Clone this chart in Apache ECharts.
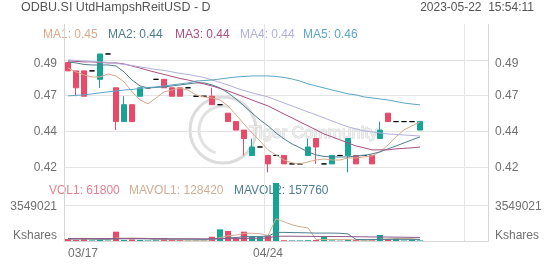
<!DOCTYPE html>
<html>
<head>
<meta charset="utf-8">
<script src="https://cdn.jsdelivr.net/npm/echarts@6/dist/echarts.min.js"></script>
<style>
html,body{margin:0;padding:0;background:#fff;}
#chart{width:552px;height:265px;}
</style>
</head>
<body>
<div id="chart"></div>
<script>
// ---- data ----
const dates = ['03/17','03/20','03/21','03/22','03/23','03/24','03/27','03/28','03/29','03/30','03/31',
  '04/03','04/04','04/05','04/06','04/10','04/11','04/12','04/13','04/14','04/17','04/18','04/19','04/20','04/21',
  '04/24','04/25','04/26','04/27','04/28','05/02','05/03','05/04','05/05','05/08','05/09','05/10','05/11','05/12',
  '05/15','05/16','05/17','05/18','05/19','05/22',
  '05/23','05/24','05/25','05/26','05/29','05/30','05/31','06/01'];
const openP  = [0.485,0.48,0.48,0.48,0.475,0.49,0.47,0.45,0.46,0.465,0.47,0.475,0.475,0.47,0.47,0.47,0.465,0.465,0.465,0.46,0.455,0.45,0.445,0.43,0.435,0.43,0.43,0.43,0.425,0.425,0.43,0.44,0.425,0.425,0.43,0.43,0.43,0.43,0.43,0.44,0.455,0.45,0.45,0.45,0.445];
const closeP = [0.48,0.47,0.465,0.48,0.49,0.49,0.45,0.46,0.45,0.47,0.47,0.475,0.47,0.465,0.465,0.47,0.465,0.465,0.46,0.46,0.45,0.445,0.44,0.435,0.435,0.425,0.43,0.425,0.425,0.425,0.435,0.435,0.425,0.43,0.43,0.44,0.425,0.43,0.425,0.445,0.45,0.45,0.45,0.45,0.45];
const lowP   = [0.48,0.465,0.465,0.48,0.47,0.49,0.445,0.45,0.45,0.465,0.47,0.475,0.47,0.465,0.465,0.47,0.465,0.465,0.46,0.46,0.45,0.445,0.43,0.43,0.435,0.42,0.43,0.425,0.425,0.425,0.43,0.425,0.425,0.425,0.43,0.42,0.425,0.43,0.425,0.44,0.45,0.45,0.45,0.45,0.445];
const highP  = [0.485,0.48,0.48,0.48,0.49,0.49,0.47,0.465,0.46,0.47,0.47,0.475,0.475,0.47,0.47,0.47,0.465,0.465,0.47,0.46,0.455,0.45,0.445,0.44,0.435,0.43,0.43,0.43,0.425,0.425,0.44,0.44,0.425,0.43,0.43,0.44,0.43,0.43,0.43,0.45,0.455,0.45,0.45,0.45,0.45];

const ma1 = [0.4817,0.4794,0.4776,0.4764,0.4764,0.4782,0.4770,0.4735,0.4676,0.4628,0.4605,0.4640,0.4676,0.4687,0.4699,0.4687,0.4658,0.4646,0.4640,0.4628,0.4593,0.4540,0.4486,0.4433,0.4386,0.4333,0.4303,0.4273,0.4256,0.4250,0.4262,0.4273,0.4279,0.4273,0.4273,0.4285,0.4285,0.4291,0.4297,0.4321,0.4362,0.4410,0.4451,0.4475,0.4498];
const ma2 = [0.4853,0.4847,0.4838,0.4835,0.4835,0.4835,0.4829,0.4794,0.4746,0.4711,0.4699,0.4702,0.4705,0.4711,0.4717,0.4723,0.4729,0.4729,0.4717,0.4699,0.4670,0.4634,0.4593,0.4551,0.4510,0.4475,0.4433,0.4398,0.4368,0.4345,0.4321,0.4303,0.4294,0.4291,0.4291,0.4291,0.4297,0.4300,0.4309,0.4321,0.4339,0.4356,0.4374,0.4392,0.4410];
const ma3 = [0.4859,0.4856,0.4853,0.4853,0.4850,0.4847,0.4847,0.4841,0.4829,0.4817,0.4803,0.4791,0.4779,0.4767,0.4755,0.4746,0.4735,0.4723,0.4711,0.4696,0.4681,0.4664,0.4646,0.4628,0.4610,0.4593,0.4569,0.4545,0.4522,0.4498,0.4475,0.4451,0.4427,0.4410,0.4392,0.4374,0.4356,0.4345,0.4333,0.4333,0.4333,0.4339,0.4342,0.4345,0.4350];
const ma4 = [0.4865,0.4862,0.4859,0.4856,0.4853,0.4850,0.4844,0.4838,0.4832,0.4823,0.4817,0.4808,0.4803,0.4794,0.4785,0.4779,0.4770,0.4761,0.4746,0.4732,0.4717,0.4699,0.4684,0.4670,0.4658,0.4646,0.4628,0.4610,0.4593,0.4575,0.4557,0.4540,0.4522,0.4504,0.4486,0.4469,0.4457,0.4445,0.4439,0.4433,0.4427,0.4424,0.4421,0.4418,0.4415];
const ma5 = [0.4652,0.4655,0.4658,0.4664,0.4670,0.4676,0.4681,0.4687,0.4690,0.4696,0.4702,0.4705,0.4711,0.4717,0.4723,0.4729,0.4740,0.4743,0.4746,0.4752,0.4758,0.4764,0.4767,0.4770,0.4770,0.4770,0.4767,0.4761,0.4752,0.4740,0.4723,0.4711,0.4699,0.4687,0.4676,0.4664,0.4658,0.4646,0.4640,0.4634,0.4628,0.4619,0.4610,0.4604,0.4599];

const volumes = [200000,100000,300000,60000,150000,50000,917000,100000,150000,100000,60000,80000,260000,100000,100000,50000,60000,60000,420000,1150000,990000,330000,920000,420000,420000,520000,5718000,80000,60000,60000,80000,100000,420000,60000,40000,100000,100000,50000,80000,590000,200000,270000,50000,100000,61800];
const mavol1 = [190000,180000,200000,170000,160000,130000,290000,280000,290000,280000,260000,120000,130000,120000,110000,90000,80000,70000,130000,340000,520000,580000,760000,760000,720000,530000,2200000,1900000,1600000,1400000,1300000,150000,150000,150000,140000,140000,110000,80000,80000,170000,200000,250000,240000,240000,128420];
const mavol2 = [200000,200000,210000,200000,190000,180000,220000,220000,230000,220000,220000,200000,200000,190000,190000,180000,170000,160000,190000,230000,300000,350000,420000,440000,450000,480000,850000,850000,830000,820000,800000,780000,780000,780000,760000,700000,150000,140000,140000,150000,160000,170000,160000,160000,157760];
const mavol3 = [250000,250000,250000,240000,240000,240000,240000,240000,240000,240000,230000,230000,230000,220000,220000,220000,220000,210000,210000,220000,230000,240000,260000,270000,280000,290000,470000,470000,470000,460000,460000,450000,450000,440000,440000,430000,420000,410000,400000,400000,390000,380000,370000,360000,350000];

const priceTickLabels = ['0.42','0.44','0.47','0.49'];
const volTickLabels = ['Kshares','3549021'];
const xTickLabels = ['03/17','04/24'];
const maNames = ['MA1','MA2','MA3','MA4','MA5'];
const maValues = ['0.45','0.44','0.44','0.44','0.46'];
const volNames = ['VOL1','MAVOL1','MAVOL2'];
const volValues = ['61800','128420','157760'];
const titleText = 'ODBU.SI UtdHampshReitUSD - D';
const timeText = '2023-05-22  15:54:11';

// ---- styling ----
const RED = '#ea4a67', TEAL = '#16a595';
const maColors = ['#d8a98a','#4e7f90','#a8507e','#b1b0df','#5da6c6'];
const volColors = ['#e8808f','#cfae95','#4e7f90'];
const mavolColors = ['#cfae95','#4e7f90','#8e5a8a'];
const GRID = '#e4e4e4', AXIS = '#d6d6d6', LBL = '#707070';
const FONT = 'Liberation Sans, Arial, sans-serif';
const PSTEP = 0.02115, VSTEP = 3549021;

const chart = echarts.init(document.getElementById('chart'), null, {renderer:'canvas'});
const kData = openP.map((o,i)=>[o, closeP[i], lowP[i], highP[i]]);
const shownX = new Set(xTickLabels.map(l=>dates.indexOf(l)));

function priceFmt(v){
  const k = Math.round(v/PSTEP) - 20;
  const t = priceTickLabels[k];
  if (t === undefined) return '';
  return k === priceTickLabels.length-1 ? '{t|'+t+'}' : t;
}
function volFmt(v){
  const k = Math.round(v/VSTEP);
  const t = volTickLabels[k];
  if (t === undefined) return '';
  return k === 0 ? '{b|'+t+'}' : '{m|'+t+'}';
}
const priceRich = {t:{padding:[8,0,0,0], color:LBL, fontSize:12, fontFamily:FONT}};
const volRich = {b:{padding:[0,0,10,0], color:LBL, fontSize:12, fontFamily:FONT}, m:{padding:[4,0,0,0], color:LBL, fontSize:12, fontFamily:FONT}};

function priceAxis(pos){
  return {type:'value', gridIndex:0, position:pos, min:0.40185, max:0.5076, interval:PSTEP, scale:true,
    axisLine:{show:true, lineStyle:{color:AXIS}}, axisTick:{show:false},
    axisLabel:{show:true, formatter:priceFmt, rich:priceRich, color:LBL, fontSize:12, fontFamily:FONT, margin:7, showMinLabel:false, showMaxLabel:false},
    splitLine:{show: pos==='left', showMinLine:false, showMaxLine:false, lineStyle:{color:GRID}}};
}
function volAxis(pos){
  return {type:'value', gridIndex:1, position:pos, min:0, max:5718000, interval:VSTEP,
    axisLine:{show:true, lineStyle:{color:AXIS}}, axisTick:{show:false},
    axisLabel:{show:true, formatter:volFmt, rich:volRich, color:LBL, fontSize:12, fontFamily:FONT, margin:7, showMaxLabel:false},
    splitLine:{show: pos==='left', showMinLine:false, showMaxLine:false, lineStyle:{color:GRID}}};
}
const splitIdx = (i)=> i % 25 === 0;

const graphics = [
  {type:'text', x:21, y:8, style:{text:titleText, fill:'#555', font:'12.5px '+FONT, verticalAlign:'middle'}},
  {type:'text', x:534, y:8, style:{text:timeText, fill:'#555', font:'12px '+FONT, verticalAlign:'middle', align:'right'}},
  {type:'circle', shape:{cx:223, cy:130, r:33}, style:{fill:'none', stroke:'#dcdcdc', lineWidth:3}, z:-1},
  {type:'arc', shape:{cx:223, cy:130, r:24, startAngle:Math.PI*0.6, endAngle:Math.PI*1.6}, style:{fill:'none', stroke:'#e2e2e2', lineWidth:3}, z:-1},
  {type:'text', x:249, y:133, style:{text:'Tiger Community', fill:'#efefef', stroke:'#d2d2d2', lineWidth:1, font:'17px '+FONT, verticalAlign:'middle'}, z:-1}
];
const maX = [43,108,175,240,303];
maNames.forEach((n,i)=>graphics.push({type:'text', x:maX[i], y:35, style:{text:n+': '+maValues[i], fill:maColors[i], font:'12px '+FONT, verticalAlign:'middle'}}));
const volX = [49,129,234];
volNames.forEach((n,i)=>graphics.push({type:'text', x:volX[i], y:191, style:{text:n+': '+volValues[i], fill:volColors[i], font:'12px '+FONT, verticalAlign:'middle'}}));

const series = [
  {type:'candlestick', xAxisIndex:0, yAxisIndex:0, data:kData, barWidth:6,
   itemStyle:{color:TEAL, color0:RED, borderColor:TEAL, borderColor0:RED, borderColorDoji:'#000', borderWidth:1}}
];
[ma1,ma2,ma3,ma4,ma5].forEach((d,i)=>series.push({type:'line', xAxisIndex:0, yAxisIndex:0, data:d, symbol:'none', smooth:false,
  lineStyle:{width:1, color:maColors[i]}, itemStyle:{color:maColors[i]}}));
series.push({type:'bar', xAxisIndex:1, yAxisIndex:2, data:volumes, barWidth:6,
  itemStyle:{color:(p)=> openP[p.dataIndex] > closeP[p.dataIndex] ? RED : TEAL}});
[mavol1,mavol2,mavol3].forEach((d,i)=>series.push({type:'line', xAxisIndex:1, yAxisIndex:2, data:d, symbol:'none',
  lineStyle:{width:1, color:mavolColors[i]}, itemStyle:{color:mavolColors[i]}}));

chart.setOption({
  animation:false,
  backgroundColor:'#fff',
  grid:[{left:64, right:64, top:24.2, height:178.85}, {left:64, right:64, top:183, height:58}],
  xAxis:[
    {type:'category', gridIndex:0, data:dates, boundaryGap:true, axisLine:{show:false}, axisTick:{show:false}, axisLabel:{show:false},
     splitLine:{show:true, interval:splitIdx, lineStyle:{color:GRID}}},
    {type:'category', gridIndex:1, data:dates, boundaryGap:true, axisLine:{show:true, lineStyle:{color:AXIS}}, axisTick:{show:false},
     axisLabel:{show:true, interval:(i)=>shownX.has(i), color:LBL, fontSize:12, fontFamily:FONT, margin:7, alignMinLabel:'left'},
     splitLine:{show:true, interval:splitIdx, lineStyle:{color:GRID}}}
  ],
  yAxis:[priceAxis('left'), priceAxis('right'), volAxis('left'), volAxis('right')],
  graphic:graphics,
  series:series
});
</script>
</body>
</html>
